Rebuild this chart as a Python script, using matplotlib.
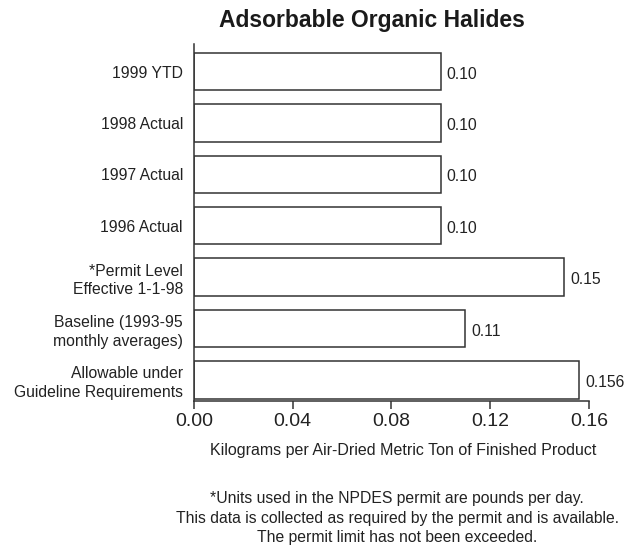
import matplotlib
matplotlib.use("Agg")
import matplotlib.pyplot as plt
import numpy as np

plt.rcParams['font.family'] = ['Liberation Sans', 'DejaVu Sans']

# Data (top to bottom as shown)
categories = ["1999 YTD", "1998 Actual", "1997 Actual", "1996 Actual",
              "*Permit Level\nEffective 1-1-98", "Baseline (1993-95\nmonthly averages)",
              "Allowable under\nGuideline Requirements"]
values = [0.10, 0.10, 0.10, 0.10, 0.15, 0.11, 0.156]
value_labels = ["0.10", "0.10", "0.10", "0.10", "0.15", "0.11", "0.156"]
xticks = [0.00, 0.04, 0.08, 0.12, 0.16]
xtick_labels = ["0.00", "0.04", "0.08", "0.12", "0.16"]

footnote = ("*Units used in the NPDES permit are pounds per day.\n"
            "This data is collected as required by the permit and is available.\n"
            "The permit limit has not been exceeded.")

edge = "#333333"
txt = "#222222"

fig = plt.figure(figsize=(6.39, 5.52), dpi=100)
ax = fig.add_axes([0.3036, 0.2736, 0.618, 0.647])

# bottom bar first in y positions
ypos = np.arange(len(categories))[::-1]
ax.barh(ypos, values, height=0.73, color="white", edgecolor=edge, linewidth=1.1)

for y, v, lab in zip(ypos, values, value_labels):
    ax.text(v + 0.0024, y - 0.05, lab, va="center", ha="left", fontsize=11.3, color=txt)

ax.set_yticks(ypos)
ax.set_yticklabels(categories, fontsize=11.3, color=txt, ha="right",
                   multialignment="right", linespacing=1.3)
ax.tick_params(axis="y", length=0, pad=8)

ax.set_xlim(0, 0.16)
ax.set_ylim(-0.41, 6.54)
ax.set_xticks(xticks)
ax.set_xticklabels(xtick_labels, fontsize=14, color=txt)
ax.tick_params(axis="x", direction="out", length=6, width=1.1, color=edge, pad=3)

ax.spines["top"].set_visible(False)
ax.spines["right"].set_visible(False)
ax.spines["left"].set_color(edge)
ax.spines["bottom"].set_color(edge)
ax.spines["left"].set_linewidth(1.1)
ax.spines["bottom"].set_linewidth(1.1)

fig.text(372 / 639, 1 - 21 / 552, "Adsorbable Organic Halides", ha="center", va="center",
         fontsize=16.5, fontweight="bold", color="#1a1a1a")
fig.text(403 / 639, 1 - 450 / 552, "Kilograms per Air-Dried Metric Ton of Finished Product",
         ha="center", va="center", fontsize=11.5, color=txt)
fig.text(397 / 639, 1 - 518 / 552, footnote, ha="center", va="center", fontsize=11.3,
         color=txt, linespacing=1.4)

fig.savefig("out.png", dpi=100)
